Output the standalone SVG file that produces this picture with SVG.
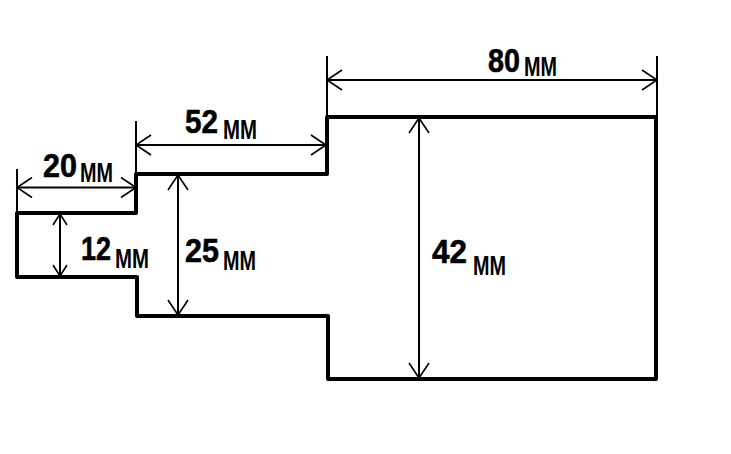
<svg xmlns="http://www.w3.org/2000/svg" width="731" height="454" viewBox="0 0 731 454">
<style>
.out{fill:none;stroke:#000;stroke-width:4;stroke-linejoin:round;stroke-linecap:round}
.dim{fill:none;stroke:#000;stroke-width:2;marker-start:url(#a);marker-end:url(#a)}
.small{marker-start:url(#b);marker-end:url(#b)}
.ext{fill:none;stroke:#000;stroke-width:2}
.label{font-family:"Liberation Sans",Arial,sans-serif;font-weight:bold;fill:#000;stroke:#000;stroke-width:.6px;font-size:34px}
.unit{font-size:28px;stroke-width:0}
</style>
<defs>
<marker id="a" markerUnits="userSpaceOnUse" markerWidth="40" markerHeight="40" refX="20" refY="20" orient="auto-start-reverse" overflow="visible"><path d="M5 10L20 20L5 30" fill="none" stroke="#000" stroke-width="1.600"/></marker>
<marker id="b" markerUnits="userSpaceOnUse" markerWidth="40" markerHeight="40" refX="20" refY="20" orient="auto-start-reverse" overflow="visible"><path d="M9 13L20 20L9 27" fill="none" stroke="#000" stroke-width="1.600"/></marker>
</defs>
<rect width="731" height="454" fill="#fff"/>
<g id="part"><path class="out" d="M17 213H136V174H327V117H656V379H328V316H137V277H17Z"/></g>
<g id="connectors">
<path class="ext" d="M327 56V117M657 56V117M136 121V174M17 169V213"/>
<path class="dim" d="M327 80H657"/>
<path class="dim" d="M136 145H326"/>
<path class="dim" d="M17 187.500H136"/>
<path class="dim small" d="M60 214V276"/>
<path class="dim" d="M178 175V315"/>
<path class="dim" d="M419 118V378"/>
</g>
<g id="label-80"><text class="label" x="488" y="72"><tspan textLength="32" lengthAdjust="spacingAndGlyphs">80</tspan><tspan class="unit" x="524" y="76" textLength="33" lengthAdjust="spacingAndGlyphs">MM</tspan></text></g>
<g id="label-52"><text class="label" x="185" y="133"><tspan textLength="33" lengthAdjust="spacingAndGlyphs">52</tspan><tspan class="unit" x="223" y="139" textLength="34" lengthAdjust="spacingAndGlyphs">MM</tspan></text></g>
<g id="label-20"><text class="label" x="43" y="177"><tspan textLength="34" lengthAdjust="spacingAndGlyphs">20</tspan><tspan class="unit" x="80" y="182" textLength="33" lengthAdjust="spacingAndGlyphs">MM</tspan></text></g>
<g id="label-12"><text class="label" x="81" y="260"><tspan textLength="30" lengthAdjust="spacingAndGlyphs">12</tspan><tspan class="unit" x="115" y="268" textLength="34" lengthAdjust="spacingAndGlyphs">MM</tspan></text></g>
<g id="label-25"><text class="label" x="185" y="262"><tspan textLength="34" lengthAdjust="spacingAndGlyphs">25</tspan><tspan class="unit" x="223" y="270" textLength="33" lengthAdjust="spacingAndGlyphs">MM</tspan></text></g>
<g id="label-42"><text class="label" x="432" y="263"><tspan textLength="35" lengthAdjust="spacingAndGlyphs">42</tspan><tspan class="unit" x="473" y="275" textLength="33" lengthAdjust="spacingAndGlyphs">MM</tspan></text></g>
</svg>
